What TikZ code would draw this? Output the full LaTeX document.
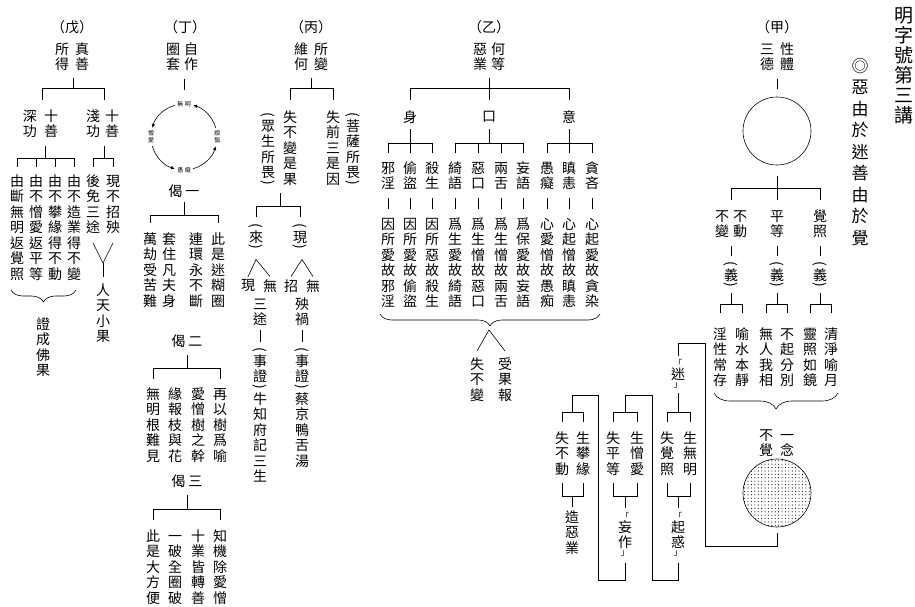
\documentclass[tikz,border=0pt]{standalone}
\usepackage{fontspec}
\setmainfont{Noto Sans CJK TC}
\usepackage{graphicx}
\usetikzlibrary{arrows.meta,decorations.pathreplacing,patterns,calc}
\pgfdeclarepatternformonly{bigdots}{\pgfqpoint{-1pt}{-1pt}}{\pgfqpoint{1pt}{1pt}}{\pgfqpoint{3.4pt}{3.4pt}}{\pgfpathcircle{\pgfqpoint{0pt}{0pt}}{0.55pt}\pgfusepath{fill}}
\ExplSyntaxOn
\dim_new:N \l_vt_fs_dim
\dim_new:N \l_vt_pitch_dim
\dim_new:N \l_vt_raise_dim
\cs_new_protected:Nn \vt_row:n
 {
  \str_case:nnF {#1}
   {
    {(} { \hbox_to_wd:nn {\l_vt_fs_dim} { \hss \raisebox{0.40\l_vt_fs_dim}[0.50\l_vt_fs_dim][0pt]{\rotatebox{-90}{(}} \hss } }
    {)} { \hbox_to_wd:nn {\l_vt_fs_dim} { \hss \raisebox{0.48\l_vt_fs_dim}[0.50\l_vt_fs_dim][0pt]{\rotatebox{-90}{)}} \hss } }
    {「} { \hbox_to_wd:nn {\l_vt_fs_dim} { \hss \raisebox{-0.05\l_vt_fs_dim}[0.5\l_vt_fs_dim][0pt]{\scalebox{0.6}{「}} \hss } }
    {」} { \hbox_to_wd:nn {\l_vt_fs_dim} { \hss \raisebox{0.10\l_vt_fs_dim}[0.5\l_vt_fs_dim][0pt]{\scalebox{0.6}{」}} \hss } }
   }
   { \hbox_to_wd:nn {\l_vt_fs_dim} { \hss \raisebox{\l_vt_raise_dim}[\l_vt_pitch_dim][0pt]{#1} \hss } }
 }
\NewDocumentCommand \vt { O{14pt} O{15.5pt} m }
 {
  \dim_set:Nn \l_vt_fs_dim {#1}
  \dim_set:Nn \l_vt_pitch_dim {#2}
  \dim_set:Nn \l_vt_raise_dim { (\l_vt_pitch_dim - 0.9\l_vt_fs_dim) / 2 + 0.07\l_vt_fs_dim }
  \vbox:n { \offinterlineskip \fontsize{#1}{#2}\selectfont \tl_map_function:nN {#3} \vt_row:n }
 }
\ExplSyntaxOff
\tikzset{
  vt/.style={anchor=north,inner sep=0pt,outer sep=0pt},
  ht/.style={inner sep=0pt,outer sep=0pt,font=\fontsize{14pt}{15pt}\selectfont},
  tiny/.style={inner sep=0pt,outer sep=0pt,font=\fontsize{6pt}{7pt}\selectfont},
  brc/.style={decorate,decoration={brace,amplitude=#1}},
  arr/.style={-{Latex[length=4pt,width=3.5pt]}}
}
\newcommand\VC[4][]{\node[vt,#1] (#2) at (#3) {\vt{#4}};}
\newcommand\tbar[3]{\draw (#2.north |- #1) -- (#3.north |- #1);}
\newcommand\tdrop[3][10]{\draw (#3.north |- #2) -- ++(0,#1);}
\begin{document}
\begin{tikzpicture}[x=1pt,y=-1pt,line width=0.6pt]
\useasboundingbox (0,0) rectangle (915,607);
\fill[white] (0,0) rectangle (915,607);

% ---------- titles
\node[vt] (title) at (904,5) {\vt[19pt][20pt]{明字號第三講}};
\node[vt] (motto) at (860,55) {\vt[17pt][21.5pt]{◎惡由於迷善由於覺}};

% ---------- 甲
\node[ht] (jiaT) at (777,27) {（甲）};
\VC{jiaA}{767,41}{三德}
\VC{jiaB}{787,41}{性體}
\node[circle,draw,minimum size=68pt,inner sep=0pt] (jiaC) at (777,131) {};
\coordinate (jiaH) at (777,79);
\draw (jiaH) -- ([yshift=8pt]jiaC.north);
\coordinate (jiaBar) at (777,188);
\coordinate (jiaL) at (731,188);
\VC{jia1a}{722,208}{不變}
\VC{jia1b}{740,208}{不動}
\VC{jia2}{777,208}{平等}
\VC{jia3}{820,208}{覺照}
\draw ([yshift=-11pt]jiaC.south) -- ([yshift=8pt]jia2.north);
\draw (jiaL) -- (jia3.north |- jiaBar) -- ++(0,12);
\draw (jiaL) -- ++(0,12);
\VC{yi1}{731,260}{(義)}
\VC{yi2}{777,260}{(義)}
\VC{yi3}{820,260}{(義)}
\foreach \n in {yi1,yi2,yi3} \draw (\n.north) ++(0,-14) -- ++(0,10);
\VC{jm1}{720,326}{淫性常存}
\VC{jm2}{742,326}{喻水本靜}
\VC{jm3}{766,326}{無人我相}
\VC{jm4}{787,326}{不起分別}
\VC{jm5}{810,326}{靈照如鏡}
\VC{jm6}{831,326}{清淨喻月}
\coordinate (jmB1) at (731,304);
\coordinate (jmB2) at (777,304);
\coordinate (jmB3) at (820,304);
\draw ([yshift=-3pt]yi1.south) -- (jmB1);
\draw ([yshift=-3pt]yi2.south) -- (jmB2);
\draw ([yshift=-3pt]yi3.south) -- (jmB3);
\tbar{jmB1}{jm1}{jm2} \tdrop[9]{jmB1}{jm1} \tdrop[9]{jmB1}{jm2}
\tbar{jmB2}{jm3}{jm4} \tdrop[9]{jmB2}{jm3} \tdrop[9]{jmB2}{jm4}
\tbar{jmB3}{jm5}{jm6} \tdrop[9]{jmB3}{jm5} \tdrop[9]{jmB3}{jm6}
\draw[brc=16pt] (838,393) -- (714,393);
\VC{nianA}{766,427}{不覺}
\VC{nianB}{787,427}{一念}
\node[circle,draw,minimum size=68pt,inner sep=0pt,pattern=bigdots] (jiaD) at (777,493) {};

% ---------- 迷 chain
\VC{mi}{678,359}{「迷」}
\draw ([yshift=-6pt]jiaD.south) |- (705,546) |- (678,343) -- ([yshift=3pt]mi.north);
\coordinate (miB) at (678,412);
\coordinate (miB2) at (678,496);
\VC{sj1}{667,430}{失覺照}
\VC{sj2}{690,430}{生無明}
\draw ([yshift=-4pt]mi.south) -- (miB);
\tbar{miB}{sj1}{sj2} \tdrop{miB}{sj1} \tdrop{miB}{sj2}
\draw ([yshift=-6pt]sj1.south) -- (sj1.south |- miB2) -- (sj2.south |- miB2) -- ([yshift=-6pt]sj2.south);
\VC{qh}{678,512}{「起惑」}
\draw (miB2) -- ([yshift=4pt]qh.north);

\coordinate (wzB) at (625,412);
\coordinate (wzB2) at (625,496);
\VC{sp1}{613,430}{失平等}
\VC{sp2}{637,430}{生憎愛}
\draw ([yshift=-6pt]qh.south) |- (652,580) |- (625,395) -- (wzB);
\tbar{wzB}{sp1}{sp2} \tdrop{wzB}{sp1} \tdrop{wzB}{sp2}
\draw ([yshift=-6pt]sp1.south) -- (sp1.south |- wzB2) -- (sp2.south |- wzB2) -- ([yshift=-6pt]sp2.south);
\VC{wz}{625,512}{「妄作」}
\draw (wzB2) -- ([yshift=4pt]wz.north);

\coordinate (zyB) at (572,412);
\coordinate (zyB2) at (572,496);
\VC{sd1}{562,430}{失不動}
\VC{sd2}{583,430}{生攀緣}
\draw ([yshift=-6pt]wz.south) |- (598,580) |- (572,395) -- (zyB);
\tbar{zyB}{sd1}{sd2} \tdrop{zyB}{sd1} \tdrop{zyB}{sd2}
\draw ([yshift=-6pt]sd1.south) -- (sd1.south |- zyB2) -- (sd2.south |- zyB2) -- ([yshift=-6pt]sd2.south);
\VC{zy}{572,509}{造惡業}
\draw (zyB2) -- ([yshift=2pt]zy.north);

% ---------- 乙
\node[ht] (yiT) at (489,27) {（乙）};
\VC{yiA}{480,41}{惡業}
\VC{yiB}{498,41}{何等}
\coordinate (yiH) at (489,78);
\coordinate (yiBar) at (489,88);
\node[ht] (shen) at (410,117) {身};
\node[ht] (kou) at (489,117) {口};
\node[ht] (yi) at (569,117) {意};
\draw (yiH) -- ++(0,22);
\tbar{yiBar}{shen}{yi} \tdrop[12]{yiBar}{shen} \tdrop[12]{yiBar}{yi}
\VC{y1}{388,160}{邪淫}
\VC{y2}{410,160}{偷盜}
\VC{y3}{432,160}{殺生}
\VC{y4}{455,160}{綺語}
\VC{y5}{478,160}{惡口}
\VC{y6}{501,160}{兩舌}
\VC{y7}{523,160}{妄語}
\VC{y8}{547,160}{愚癡}
\VC{y9}{569,160}{瞋恚}
\VC{y10}{592,160}{貪吝}
\coordinate (shenB) at (410,143);
\coordinate (kouB) at (489,143);
\coordinate (yiB) at (569,143);
\draw ([yshift=-6pt]shen.south) -- (shenB);
\draw ([yshift=-6pt]kou.south) -- (kouB);
\draw ([yshift=-6pt]yi.south) -- (yiB);
\tbar{shenB}{y1}{y3} \foreach \n in {y1,y2,y3} {\tdrop{shenB}{\n}}
\tbar{kouB}{y4}{y7} \foreach \n in {y4,y5,y6,y7} {\tdrop{kouB}{\n}}
\tbar{yiB}{y8}{y10} \foreach \n in {y8,y9,y10} {\tdrop{yiB}{\n}}
\VC{z1}{388,216}{因所愛故邪淫}
\VC{z2}{410,216}{因所愛故偷盜}
\VC{z3}{432,216}{因所惡故殺生}
\VC{z4}{455,216}{爲生愛故綺語}
\VC{z5}{478,216}{爲生憎故惡口}
\VC{z6}{501,216}{爲生憎故兩舌}
\VC{z7}{523,216}{爲保愛故妄語}
\VC{z8}{547,216}{心愛憎故愚痴}
\VC{z9}{569,216}{心起憎故瞋恚}
\VC{z10}{592,216}{心起愛故貪染}
\foreach \i in {1,...,10} \draw ([yshift=-7pt]y\i.south) -- ([yshift=7pt]z\i.north);
\draw[brc=12pt] (600,314) -- (380,314);
\VC{bub}{477,356}{失不變}
\VC{shou}{505,356}{受果報}
\coordinate (yiApex) at (489,330);
\draw ([yshift=5pt]bub.north) -- (yiApex) -- ([yshift=5pt]shou.north);

% ---------- 丙
\node[ht] (bingT) at (311,27) {（丙）};
\VC{bingA}{301,41}{維何}
\VC{bingB}{321,41}{所變}
\coordinate (bingH) at (311,78);
\coordinate (bingBar) at (311,88);
\VC{b1}{268,111}{(眾生所畏)}
\VC{b2}{290,109}{失不變是果}
\VC{b3}{333,109}{失前三是因}
\VC{b4}{353,111}{(菩薩所畏)}
\draw (bingH) -- (bingBar);
\tbar{bingBar}{b2}{b3} \tdrop[12]{bingBar}{b2} \tdrop[12]{bingBar}{b3}
\coordinate (bingP) at (280,193);
\coordinate (bingB2) at (280,206);
\VC{lai}{256,222}{(來)}
\VC{xian}{300,222}{(現)}
\draw (bingP) -- (bingB2);
\tbar{bingB2}{lai}{xian} \tdrop[11]{bingB2}{lai} \tdrop[11]{bingB2}{xian}
\node[ht] (x1) at (248,286) {現};
\node[ht] (x2) at (270,286) {無};
\node[ht] (x3) at (291,286) {招};
\node[ht] (x4) at (313,286) {無};
\draw ([yshift=3pt]x1.north) -- ([yshift=-8pt]lai.south) -- ([yshift=3pt]x2.north);
\draw ([yshift=3pt]x3.north) -- ([shift={(2pt,-8pt)}]xian.south) -- ([yshift=3pt]x4.north);
\VC{santu}{260,296}{三途}
\VC{yanghuo}{302,296}{殃禍}
\VC{sz1}{260,346}{(事證)牛知府記三生}
\VC{sz2}{302,346}{(事證)蔡京鴨舌湯}
\draw ([yshift=-3pt]santu.south) -- ([yshift=4pt]sz1.north);
\draw ([yshift=-3pt]yanghuo.south) -- ([yshift=4pt]sz2.north);

% ---------- 丁
\node[ht] (dingT) at (185,27) {（丁）};
\VC{dingA}{173,41}{圈套}
\VC{dingB}{191,41}{自作}
\coordinate (dc) at (184,137);
\coordinate (dingH) at (184,79);
\draw (dingH) -- ++(0,11);
\node[tiny] (cl1) at (184,104) {無\kern1.5pt 明};
\node[inner sep=0pt] (cl2) at (217,137) {\vt[6pt][7pt]{煩惱}};
\node[tiny] (cl3) at (184,170) {愚\kern1.5pt 癡};
\node[inner sep=0pt] (cl4) at (151,137) {\vt[6pt][7pt]{憎愛}};
\draw[arr] ($(dc)+(-106:33)$) arc[start angle=-106,end angle=-164,radius=33];
\draw[arr] ($(dc)+(-196:33)$) arc[start angle=-196,end angle=-254,radius=33];
\draw[arr] ($(dc)+(-286:33)$) arc[start angle=-286,end angle=-344,radius=33];
\draw[arr] ($(dc)+(-376:33)$) arc[start angle=-376,end angle=-434,radius=33];
\node[ht] (ji1) at (184,191) {偈\kern3pt 一};
\coordinate (ji1B) at (184,215);
\draw ([yshift=-5pt]ji1.south) -- (ji1B);
\VC{d1}{150,231}{萬劫受苦難}
\VC{d2}{169,231}{套住凡夫身}
\VC{d3}{196,231}{連環永不斷}
\VC{d4}{218,231}{此是迷糊圈}
\tbar{ji1B}{d1}{d4} \tdrop[8]{ji1B}{d1} \tdrop[8]{ji1B}{d4}
\node[ht] (ji2) at (187,341) {偈\kern3pt 二};
\coordinate (ji2B) at (187,368);
\draw ([yshift=-8pt]ji2.south) -- (ji2B);
\VC{e1}{153,386}{無明根難見}
\VC{e2}{175,386}{緣報枝與花}
\VC{e3}{198,386}{愛憎樹之幹}
\VC{e4}{220,386}{再以樹爲喻}
\tbar{ji2B}{e1}{e4} \tdrop[11]{ji2B}{e1} \tdrop[11]{ji2B}{e4}
\node[ht] (ji3) at (187,481) {偈\kern3pt 三};
\coordinate (ji3B) at (187,509);
\draw ([yshift=-8pt]ji3.south) -- (ji3B);
\VC{f1}{153,528}{此是大方便}
\VC{f2}{175,528}{一破全圈破}
\VC{f3}{198,528}{十業皆轉善}
\VC{f4}{220,528}{知機除愛憎}
\tbar{ji3B}{f1}{f4} \tdrop[11]{ji3B}{f1} \tdrop[11]{ji3B}{f4}

% ---------- 戊
\node[ht] (wuT) at (72,27) {（戊）};
\VC{wuA}{62,41}{所得}
\VC{wuB}{82,41}{真善}
\coordinate (wuH) at (73,78);
\coordinate (wuBar) at (73,88);
\coordinate (wuL) at (42,88);
\coordinate (wuR) at (104,88);
\draw (wuH) -- (wuBar);
\draw (wuL) -- (wuR);
\draw (wuL) -- ++(0,12);
\draw (wuR) -- ++(0,12);
\VC{w1}{30,108}{深功}
\VC{w2}{51,108}{十善}
\VC{w3}{93,108}{淺功}
\VC{w4}{112,108}{十善}
\VC{c1}{17,173}{由斷無明返覺照}
\VC{c2}{36,173}{由不憎愛返平等}
\VC{c3}{55,173}{由不攀緣得不動}
\VC{c4}{74,173}{由不造業得不變}
\VC{c5}{93,173}{後免三途}
\VC{c6}{113,173}{現不招殃}
\coordinate (wuP1) at (45,146);
\coordinate (wuB1) at (45,158);
\coordinate (wuP2) at (104,146);
\coordinate (wuB2) at (104,158);
\draw (wuP1) -- (wuB1);
\draw (wuP2) -- (wuB2);
\tbar{wuB1}{c1}{c4} \foreach \n in {c1,c2,c3,c4} {\tdrop[9]{wuB1}{\n}}
\tbar{wuB2}{c5}{c6} \tdrop[9]{wuB2}{c5} \tdrop[9]{wuB2}{c6}
\coordinate (wuY) at (103,263);
\draw ([yshift=-8pt]c5.south) -- (wuY) -- ([yshift=-8pt]c6.south);
\VC{rt}{103,282}{人天小果}
\draw (wuY) -- ([yshift=5pt]rt.north);
\draw[brc=12pt] (76,290) -- (11,290);
\VC{zc}{43,316}{證成佛果}
\end{tikzpicture}
\end{document}
